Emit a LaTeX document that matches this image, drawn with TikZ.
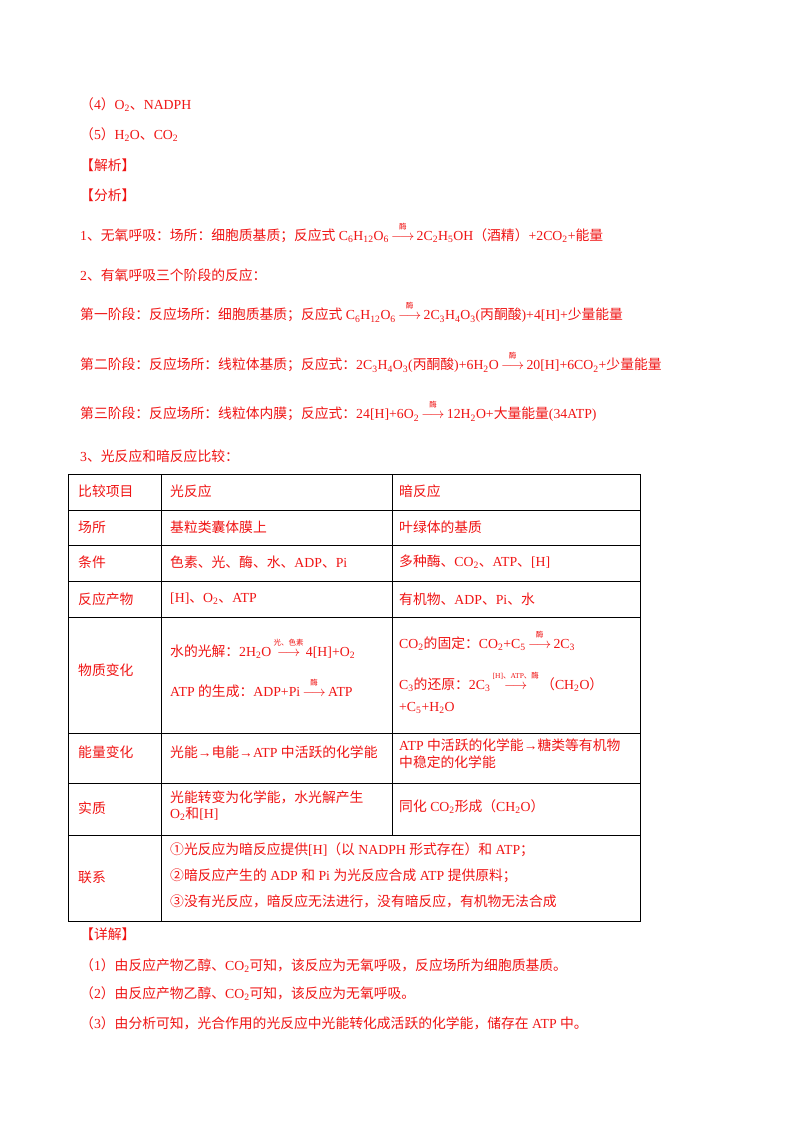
\documentclass[tikz,border=0pt]{standalone}
\usepackage{fontspec}
\usepackage{amsmath}
\setmainfont{Liberation Serif}
\newfontfamily\cjkf{Noto Sans CJK SC}
\newcount\cc
\XeTeXinterchartokenstate=1
\newXeTeXintercharclass\cjkc
\def\setrange#1#2{\cc=#1 \loop\XeTeXcharclass\cc=\cjkc \advance\cc by 1 \ifnum\cc<#2 \repeat}
\setrange{"4E00}{"A000}
\setrange{"3000}{"3040}
\setrange{"FF00}{"FF10}
\setrange{"FF1A}{"FF21}
\setrange{"2460}{"2474}
\XeTeXinterchartoks 0 \cjkc = {\cjkf}
\XeTeXinterchartoks 4095 \cjkc = {\cjkf}
\XeTeXinterchartoks \cjkc 0 = {\rmfamily}
\XeTeXinterchartoks \cjkc 4095 = {\rmfamily}
\newcommand{\rx}[1]{\,\raisebox{0pt}{$\overset{\raisebox{3pt}{\hbox{\fontsize{7.5}{8}\selectfont #1}}}{\longrightarrow}$}\,}
\newcommand{\s}[1]{\textsubscript{#1}}
\definecolor{rd}{RGB}{240,20,20}
\begin{document}
\begin{tikzpicture}[x=1pt,y=-1pt,
  t/.style={anchor=west,inner sep=0pt,text=rd,font=\fontsize{13.8}{17}\selectfont},
  ln/.style={line width=0.8pt}]
\useasboundingbox[fill=white] (0,0) rectangle (800,1132);
\node[t] (a1) at (80,105) {（4）O\s{2}、NADPH};
\node[t] (a2) at (80,135) {（5）H\s{2}O、CO\s{2}};
\node[t] (a3) at (80,165) {【解析】};
\node[t] (a4) at (80,195) {【分析】};
\node[t] (b1) at (80,232) {1、无氧呼吸：场所：细胞质基质；反应式 C\s{6}H\s{12}O\s{6}\rx{酶}2C\s{2}H\s{5}OH（酒精）+2CO\s{2}+能量};
\node[t] (b2) at (80,275) {2、有氧呼吸三个阶段的反应：};
\node[t] (b3) at (80,312) {第一阶段：反应场所：细胞质基质；反应式 C\s{6}H\s{12}O\s{6}\rx{酶}2C\s{3}H\s{4}O\s{3}(丙酮酸)+4[H]+少量能量};
\node[t] (b4) at (80,362) {第二阶段：反应场所：线粒体基质；反应式：2C\s{3}H\s{4}O\s{3}(丙酮酸)+6H\s{2}O\rx{酶}20[H]+6CO\s{2}+少量能量};
\node[t] (b5) at (80,411) {第三阶段：反应场所：线粒体内膜；反应式：24[H]+6O\s{2}\rx{酶}12H\s{2}O+大量能量(34ATP)};
\node[t] (b6) at (80,456) {3、光反应和暗反应比较：};
% table
\draw[ln] (68,474) rectangle (640,921);
\foreach \yy in {510,545,581,617,733,783,835} \draw[ln] (68,\yy) -- (640,\yy);
\draw[ln] (161,474) -- (161,921);
\draw[ln] (392,474) -- (392,835);
\node[t] (h1) at (78,491) {比较项目};
\node[t] (h2) at (170,491) {光反应};
\node[t] (h3) at (399,491) {暗反应};
\node[t] (r1) at (78,527) {场所};
\node[t] (r1b) at (170,527) {基粒类囊体膜上};
\node[t] (r1c) at (399,527) {叶绿体的基质};
\node[t] (r2) at (78,562) {条件};
\node[t] (r2b) at (170,562) {色素、光、酶、水、ADP、Pi};
\node[t] (r2c) at (399,562) {多种酶、CO\s{2}、ATP、[H]};
\node[t] (r3) at (78,599) {反应产物};
\node[t] (r3b) at (170,599) {[H]、O\s{2}、ATP};
\node[t] (r3c) at (399,599) {有机物、ADP、Pi、水};
\node[t] (r4) at (78,670) {物质变化};
\node[t] (r4b) at (170,648) {水的光解：2H\s{2}O\rx{光、色素}4[H]+O\s{2}};
\node[t] (r4c) at (170,688) {ATP 的生成：ADP+Pi\rx{酶}ATP};
\node[t] (r4d) at (399,640) {CO\s{2}的固定：CO\s{2}+C\s{5}\rx{酶}2C\s{3}};
\node[t] (r4e) at (399,681) {C\s{3}的还原：2C\s{3}\rx{[H]、ATP、酶}（CH\s{2}O）};
\node[t] (r4f) at (399,708) {+C\s{5}+H\s{2}O};
\node[t] (r5) at (78,752) {能量变化};
\node[t] (r5b) at (170,752) {光能→电能→ATP 中活跃的化学能};
\node[t] (r5c) at (399,745) {ATP 中活跃的化学能→糖类等有机物};
\node[t] (r5d) at (399,762) {中稳定的化学能};
\node[t] (r6) at (78,808) {实质};
\node[t] (r6b) at (170,797) {光能转变为化学能，水光解产生};
\node[t] (r6c) at (170,814) {O\s{2}和[H]};
\node[t] (r6d) at (399,807) {同化 CO\s{2}形成（CH\s{2}O）};
\node[t] (r7) at (78,877) {联系};
\node[t] (r7a) at (170,850) {①光反应为暗反应提供[H]（以 NADPH 形式存在）和 ATP；};
\node[t] (r7b) at (170,876) {②暗反应产生的 ADP 和 Pi 为光反应合成 ATP 提供原料；};
\node[t] (r7c) at (170,901) {③没有光反应，暗反应无法进行，没有暗反应，有机物无法合成};
\node[t] (c0) at (80,934) {【详解】};
\node[t] (c1) at (80,966) {（1）由反应产物乙醇、CO\s{2}可知，该反应为无氧呼吸，反应场所为细胞质基质。};
\node[t] (c2) at (80,994) {（2）由反应产物乙醇、CO\s{2}可知，该反应为无氧呼吸。};
\node[t] (c3) at (80,1023) {（3）由分析可知，光合作用的光反应中光能转化成活跃的化学能，储存在 ATP 中。};
\end{tikzpicture}
\end{document}
